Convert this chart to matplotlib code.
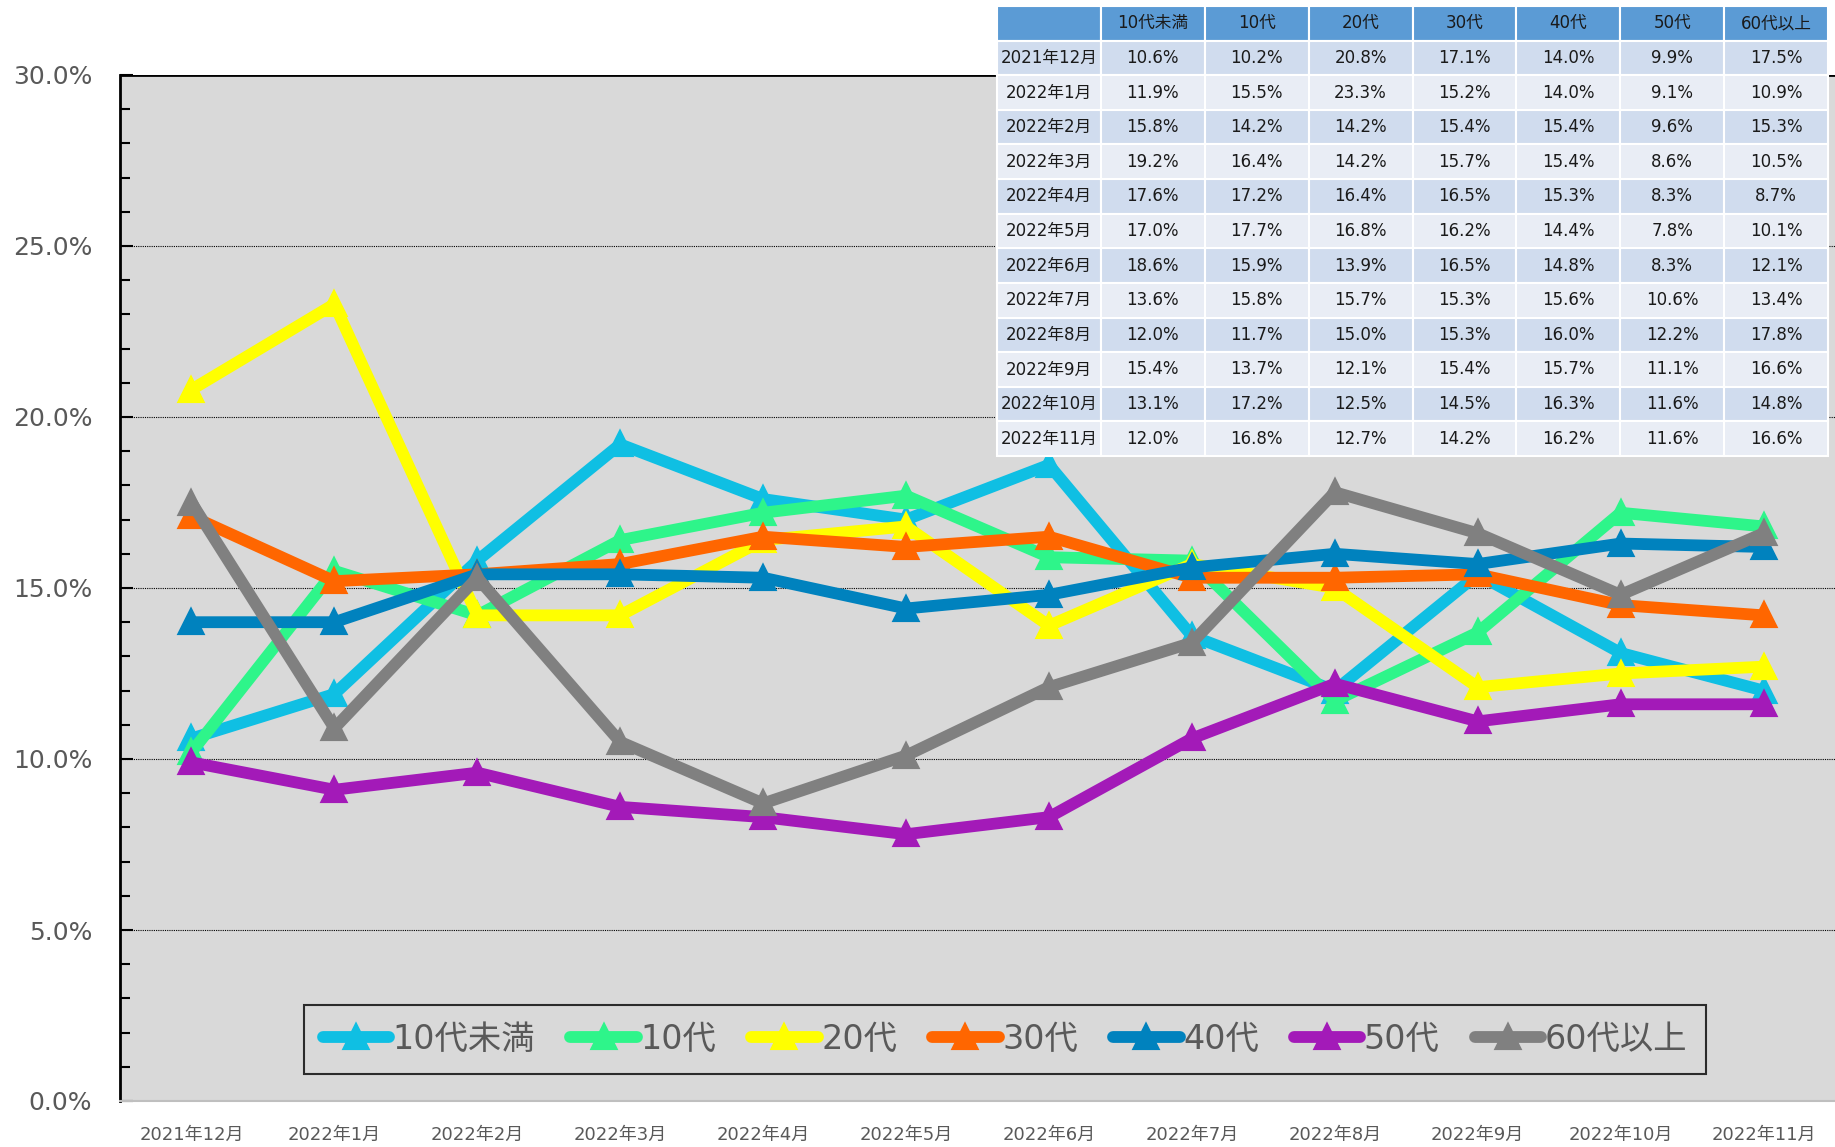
import numpy as np
import matplotlib.pyplot as plt
from matplotlib.ticker import MultipleLocator, PercentFormatter

plt.rcParams['font.family'] = ['DejaVu Sans', 'Noto Sans CJK JP']

months = ['2021年12月', '2022年1月', '2022年2月', '2022年3月', '2022年4月', '2022年5月',
          '2022年6月', '2022年7月', '2022年8月', '2022年9月', '2022年10月', '2022年11月']
groups = ['10代未満', '10代', '20代', '30代', '40代', '50代', '60代以上']

u10 = [10.6, 11.9, 15.8, 19.2, 17.6, 17.0, 18.6, 13.6, 12.0, 15.4, 13.1, 12.0]
a10 = [10.2, 15.5, 14.2, 16.4, 17.2, 17.7, 15.9, 15.8, 11.7, 13.7, 17.2, 16.8]
a20 = [20.8, 23.3, 14.2, 14.2, 16.4, 16.8, 13.9, 15.7, 15.0, 12.1, 12.5, 12.7]
a30 = [17.1, 15.2, 15.4, 15.7, 16.5, 16.2, 16.5, 15.3, 15.3, 15.4, 14.5, 14.2]
a40 = [14.0, 14.0, 15.4, 15.4, 15.3, 14.4, 14.8, 15.6, 16.0, 15.7, 16.3, 16.2]
a50 = [9.9, 9.1, 9.6, 8.6, 8.3, 7.8, 8.3, 10.6, 12.2, 11.1, 11.6, 11.6]
a60 = [17.5, 10.9, 15.3, 10.5, 8.7, 10.1, 12.1, 13.4, 17.8, 16.6, 14.8, 16.6]

series = [u10, a10, a20, a30, a40, a50, a60]
colors = ['#0FBFE3', '#2EF58A', '#FFFF00', '#FF6600', '#0082BE', '#A31AB8', '#808080']

fig = plt.figure(figsize=(18.35, 11.47), dpi=100)
ax = fig.add_axes([120/1835, 1-1101/1147, 1-120/1835, (1101-75)/1147])
ax.set_facecolor('#D9D9D9')

x = np.arange(len(months))
for name, vals, c in zip(groups, series, colors):
    ax.plot(x, np.array(vals)/100, color=c, lw=8.5, marker='^', ms=16, mew=3, mec=c,
            solid_joinstyle='round', solid_capstyle='round', label=name)

ax.set_xlim(-0.5, len(months)-0.5)
ax.set_ylim(0, 0.30)
ax.yaxis.set_major_locator(MultipleLocator(0.05))
ax.yaxis.set_minor_locator(MultipleLocator(0.01))
ax.yaxis.set_major_formatter(PercentFormatter(1.0, decimals=1))
ax.tick_params(axis='y', which='both', direction='in', colors='black', labelcolor='#595959',
               labelsize=18, width=1.5, pad=20)
ax.tick_params(axis='y', which='major', length=9)
ax.tick_params(axis='y', which='minor', length=7)
ax.set_xticks(x)
ax.set_xticklabels(months)
ax.tick_params(axis='x', length=0, labelsize=13, labelcolor='#595959', pad=18)
ax.grid(axis='y', color='black', ls=(0, (1, 1)), lw=0.8)
ax.set_axisbelow(True)
for s in ['top', 'right']:
    ax.spines[s].set_visible(False)
ax.spines['left'].set_linewidth(2)
ax.spines['bottom'].set_color('#BFBFBF')
ax.spines['bottom'].set_linewidth(1.5)
ax.axhline(0.30, color='black', lw=2)

leg = ax.legend(loc='lower center', bbox_to_anchor=(0.516, 0.026), ncol=7,
                fontsize=24, frameon=True, fancybox=False, handlelength=2.0,
                handletextpad=0.1, columnspacing=1.05, borderpad=0.55, borderaxespad=0)
leg.get_frame().set_edgecolor('black')
leg.get_frame().set_facecolor('none')
leg.get_frame().set_linewidth(1.5)
for t in leg.get_texts():
    t.set_color('#595959')

# data table in the top right corner
tax = fig.add_axes([997/1835, 1-456/1147, 831/1835, 450/1147])
tax.axis('off')
cells = [[months[i]] + [f'{s[i]:.1f}%' for s in series] for i in range(len(months))]
tbl = tax.table(cellText=cells, colLabels=[''] + groups,
                bbox=[0, 0, 1, 1], cellLoc='center')
tbl.auto_set_font_size(False)
tbl.set_fontsize(12)
for (r, c), cell in tbl.get_celld().items():
    cell.set_edgecolor('white')
    cell.set_linewidth(1.5)
    if r == 0:
        cell.set_facecolor('#5B9BD5')
    elif r % 2 == 1:
        cell.set_facecolor('#D0DCEE')
    else:
        cell.set_facecolor('#E9EDF5')
    cell.get_text().set_color('#1a1a1a')

fig.savefig('out.png', dpi=100)
